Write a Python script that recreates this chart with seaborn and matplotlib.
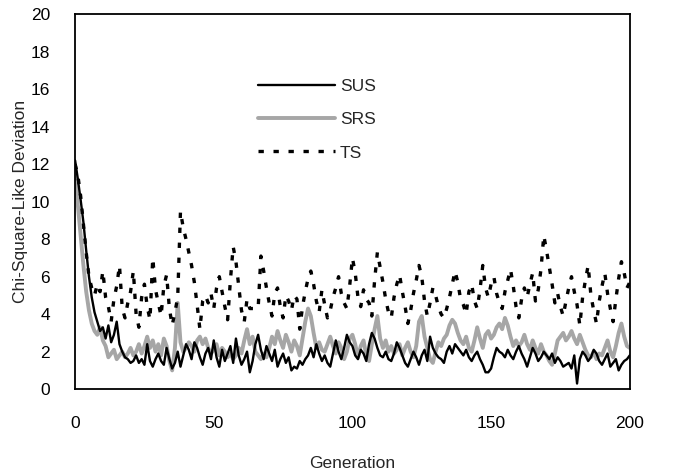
import numpy as np
import pandas as pd
import matplotlib
matplotlib.use("Agg")
import matplotlib.pyplot as plt
import seaborn as sns

generations = list(range(0, 201))

sus = [12.2, 11.2, 10.1, 8.9, 7.4, 6.0, 4.9, 4.1, 3.6, 3.1,
       3.3, 2.7, 3.4, 2.5, 2.9, 3.6, 2.4, 2.0, 1.7, 1.6,
       1.4, 1.5, 1.8, 1.4, 1.6, 1.3, 2.4, 1.5, 1.2, 1.6,
       1.9, 1.5, 1.3, 2.2, 1.6, 1.1, 1.4, 2.0, 1.2, 1.8,
       2.4, 2.1, 1.6, 2.5, 2.2, 1.7, 1.3, 1.9, 2.2, 1.6,
       2.6, 1.7, 1.2, 2.1, 1.5, 1.9, 2.3, 1.4, 2.7, 1.8,
       1.3, 1.6, 2.0, 0.9, 1.5, 2.4, 2.9, 2.1, 1.6, 2.3,
       1.9, 1.5, 2.1, 1.2, 1.6, 1.9, 1.4, 1.7, 1.0, 1.2,
       1.1, 1.5, 1.3, 1.6, 1.8, 2.2, 1.7, 2.4, 1.9, 1.5,
       1.8, 1.4, 1.2, 1.9, 2.6, 2.0, 1.6, 2.2, 2.9, 2.5,
       2.3, 1.8, 1.6, 2.1, 1.9, 1.5, 2.4, 3.0, 2.7, 2.2,
       1.8, 1.7, 2.0, 1.6, 1.5, 1.9, 2.5, 2.2, 1.8, 1.4,
       1.2, 1.6, 2.0, 1.7, 1.3, 1.8, 2.1, 1.5, 2.8, 2.2,
       1.9, 1.7, 1.6, 1.4, 2.0, 2.3, 1.9, 2.4, 2.2, 2.0,
       1.8, 2.1, 1.7, 1.5, 1.8, 2.0, 1.6, 1.3, 0.9, 0.9,
       1.1, 1.7, 2.2, 2.0, 1.9, 1.7, 2.1, 1.8, 1.6, 2.0,
       2.3, 1.9, 1.6, 1.2, 1.7, 2.2, 1.9, 1.5, 1.7, 2.0,
       1.8, 1.6, 1.9, 1.4, 1.7, 1.5, 1.2, 1.3, 1.4, 1.1,
       1.8, 0.3, 1.6, 2.0, 1.8, 1.5, 1.7, 2.1, 1.9, 1.5,
       1.3, 1.6, 1.9, 1.2, 1.4, 1.6, 1.0, 1.3, 1.5, 1.6,
       1.8]

srs = [11.6, 9.8, 8.2, 6.6, 5.2, 4.2, 3.5, 3.1, 2.9, 3.3,
       2.6, 2.3, 1.7, 1.9, 2.1, 1.6, 1.8, 2.0, 1.7, 1.9,
       2.2, 1.8, 2.0, 2.4, 1.9, 2.3, 2.8, 2.2, 2.6, 2.0,
       2.4, 1.8, 2.7, 2.3, 1.5, 1.0, 2.2, 4.6, 2.5, 2.0,
       2.2, 2.5, 2.3, 2.0, 2.6, 2.8, 2.4, 2.7, 2.2, 1.9,
       2.1, 2.4, 1.8, 2.2, 2.0, 1.7, 1.9, 1.6, 1.8, 2.2,
       1.9, 2.6, 3.2, 2.4, 2.8, 2.0, 1.8, 1.6, 1.9, 1.7,
       2.2, 2.8, 2.4, 3.1, 2.6, 2.2, 2.9, 2.5, 2.0, 2.6,
       2.3, 1.8, 2.7, 3.6, 4.3, 3.9, 3.0, 2.2, 2.5, 2.1,
       2.0, 2.4, 2.8, 2.3, 1.9, 2.5, 2.2, 1.6, 2.0, 2.7,
       2.9, 2.4, 1.7, 2.3, 2.6, 1.8, 1.5, 2.4, 3.2, 3.9,
       2.7, 2.2, 2.6, 2.0, 2.3, 1.9, 2.1, 2.4, 1.8, 2.2,
       2.5, 2.0, 1.7, 2.3, 3.6, 3.9, 2.8, 2.2, 1.6, 1.4,
       2.0, 2.5, 2.3, 2.7, 2.9, 3.4, 3.7, 3.5, 3.0, 2.6,
       2.4, 2.8, 2.2, 2.0, 2.6, 3.3, 2.7, 2.2, 2.9, 3.1,
       2.7, 2.9, 3.3, 3.5, 3.2, 3.8, 3.4, 2.8, 2.3, 2.6,
       2.3, 2.5, 2.9, 2.4, 2.1, 2.6, 2.2, 1.9, 2.4, 2.0,
       1.8, 1.5, 1.3, 1.9, 2.6, 2.8, 3.0, 2.6, 2.8, 3.1,
       2.7, 2.4, 2.9, 2.5, 2.1, 1.8, 1.7, 2.0, 1.6, 1.9,
       1.8, 2.2, 2.6, 2.0, 1.7, 2.3, 3.0, 3.5, 2.8, 2.3,
       2.2]

ts = [12.0, 11.4, 10.3, 8.8, 7.3, 6.0, 5.4, 5.0, 5.6, 5.2,
      6.3, 4.9, 4.4, 3.6, 4.8, 5.5, 6.6, 4.3, 3.8, 4.6,
      5.2, 6.3, 4.0, 3.3, 4.9, 5.6, 4.4, 3.7, 7.0, 5.3,
      4.6, 3.9, 5.5, 6.1, 4.3, 3.4, 4.1, 4.9, 9.5, 8.6,
      8.0, 7.3, 6.6, 5.7, 4.5, 3.2, 4.7, 5.0, 4.6, 5.1,
      4.3, 5.4, 6.0, 5.2, 4.4, 3.7, 5.8, 7.6, 6.8, 5.5,
      4.2, 3.6, 4.8, 4.3, 4.3, 4.3, 4.3, 7.1, 6.3, 5.4,
      4.6, 3.9, 5.1, 5.4, 4.4, 3.8, 5.0, 4.7, 4.2, 5.0,
      4.8, 3.2, 4.4, 5.2, 5.9, 6.3, 5.6, 4.7, 4.1, 5.3,
      4.5, 3.8, 4.2, 4.9, 5.4, 6.0, 5.1, 4.6, 4.3, 5.5,
      7.0, 6.2, 4.9, 4.4, 5.3, 4.8, 4.6, 3.9, 5.8, 7.3,
      6.5, 5.7, 4.8, 4.1, 3.8, 4.9, 5.6, 6.1, 5.2, 4.4,
      3.5, 4.2, 5.1, 5.8, 6.6, 6.0, 4.7, 3.9, 4.6, 5.4,
      5.0, 4.4, 4.0, 3.8, 4.3, 4.9, 5.6, 6.3, 5.7, 4.8,
      4.5, 4.0, 5.2, 5.6, 4.7, 4.3, 5.3, 6.6, 5.4, 4.9,
      5.6, 6.0, 5.1, 4.6, 4.3, 5.2, 5.8, 6.4, 5.5, 4.4,
      3.8, 4.8, 5.4, 4.9, 5.6, 6.2, 4.7, 5.3, 6.4, 8.2,
      7.4, 6.5, 5.6, 4.6, 5.1, 4.4, 3.9, 4.7, 5.4, 6.0,
      5.2, 4.5, 3.4, 4.9, 5.8, 6.6, 5.0, 4.2, 3.5, 4.7,
      5.5, 6.2, 5.1, 4.3, 3.6, 4.8, 5.9, 6.8, 6.2, 5.4,
      5.7]

series_names = ["SUS", "SRS", "TS"]
x_ticks = [0, 50, 100, 150, 200]
y_ticks = list(range(0, 21, 2))

sns.set_style("white")
plt.rcParams["font.family"] = ["Liberation Sans", "DejaVu Sans"]

fig = plt.figure(figsize=(6.89, 4.74), dpi=100)
ax = fig.add_axes([0.109, 0.179, 0.805, 0.791])

df = pd.DataFrame({"Generation": generations, "SUS": sus, "SRS": srs, "TS": ts})

sns.lineplot(data=df, x="Generation", y="SRS", ax=ax, color="#a6a6a6",
             linewidth=2.8, label="SRS", zorder=2)
sns.lineplot(data=df, x="Generation", y="SUS", ax=ax, color="black",
             linewidth=1.7, label="SUS", zorder=3)
sns.lineplot(data=df, x="Generation", y="TS", ax=ax, color="black",
             linewidth=2.4, linestyle=(0, (1.6, 2.9)), label="TS", zorder=4)

ax.set_xlim(0, 200)
ax.set_ylim(0, 20)
ax.set_xticks(x_ticks)
ax.set_yticks(y_ticks)
ax.tick_params(axis="both", direction="in", length=4, width=1,
               labelsize=12.5, colors="black")
ax.tick_params(axis="x", pad=19)
ax.tick_params(axis="y", pad=18)
ax.set_xlabel("Generation", fontsize=12.5, labelpad=18)
ax.set_ylabel("Chi-Square-Like Deviation", fontsize=12.5, labelpad=2)
for s in ax.spines.values():
    s.set_visible(True)
    s.set_color("black")
    s.set_linewidth(1.3)

handles, labels = ax.get_legend_handles_labels()
order = [labels.index(n) for n in series_names]
ax.legend([handles[i] for i in order], [labels[i] for i in order],
          loc="upper left", bbox_to_anchor=(0.302, 0.87), frameon=False,
          fontsize=12.5, handlelength=4.4, handletextpad=0.3, labelspacing=1.05)

fig.savefig("out.png", dpi=100)
